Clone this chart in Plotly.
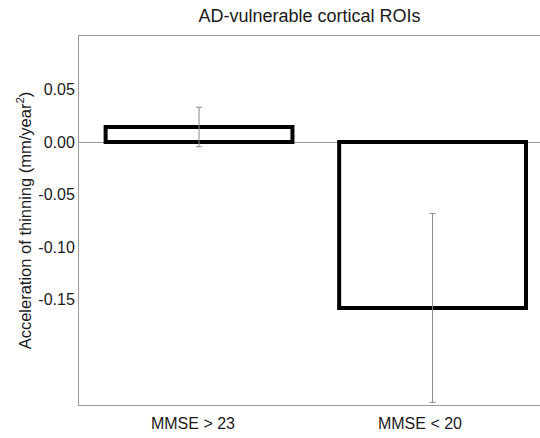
import plotly.graph_objects as go

categories = ["MMSE > 23", "MMSE < 20"]
values = [0.0143, -0.158]
errors = [0.0188, 0.090]
y_tick_values = [0.05, 0.00, -0.05, -0.10, -0.15]
y_tick_labels = ["0.05", "0.00", "-0.05", "-0.10", "-0.15"]

positions = list(range(len(categories)))
label_offsets = [-0.026, -0.054]

FONT = "Liberation Sans, Arial, sans-serif"
AXIS_GREY = "#9a9a9a"

fig = go.Figure(
    go.Bar(
        x=positions,
        y=values,
        width=0.8,
        marker=dict(color="white", line=dict(color="black", width=4)),
        error_y=dict(type="data", array=errors, visible=True,
                     color="#8a8a8a", thickness=1, width=3),
    )
)

fig.update_layout(
    width=540, height=438,
    margin=dict(l=79, r=0, t=36, b=33),
    paper_bgcolor="white", plot_bgcolor="white",
    showlegend=False,
    font=dict(family=FONT, size=16, color="#1a1a1a"),
    title=dict(text="AD-vulnerable cortical ROIs", x=0.5, xref="paper",
               y=1 - 16 / 438, yref="container", yanchor="middle",
               font=dict(size=18, family=FONT, color="#1a1a1a")),
    xaxis=dict(
        range=[-0.514, 1.46],
        tickvals=[p + o for p, o in zip(positions, label_offsets)],
        ticktext=categories,
        showgrid=False, zeroline=False,
        showline=True, mirror=True, linecolor=AXIS_GREY, linewidth=1,
        ticks="", tickfont=dict(size=16), ticklabelstandoff=4,
    ),
    yaxis=dict(
        range=[-0.2505, 0.101],
        tickvals=y_tick_values, ticktext=y_tick_labels,
        showgrid=False,
        zeroline=True, zerolinecolor=AXIS_GREY, zerolinewidth=1,
        showline=True, mirror=False, linecolor=AXIS_GREY, linewidth=1,
        ticks="", tickfont=dict(size=16),
        title=dict(text="Acceleration of thinning (mm/year<sup>2</sup>)",
                   font=dict(size=16.5), standoff=2),
    ),
)

fig.write_html("out.html")
